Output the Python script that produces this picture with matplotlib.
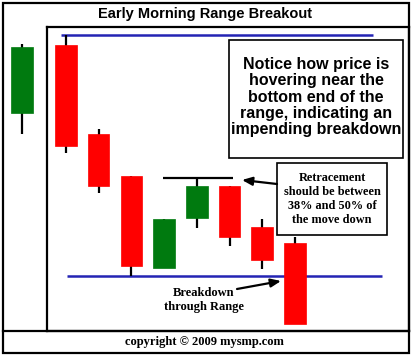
import matplotlib
matplotlib.use("Agg")
import matplotlib.pyplot as plt
from matplotlib.patches import Rectangle

# ---- data (price units, arbitrary scale) ----
first_candle = {"open": 218, "high": 287, "low": 197, "close": 284}
main_index = [1, 2, 3, 4, 5, 6, 7, 8]
opens  = [286, 197, 155, 63, 113, 145, 104, 88]
highs  = [296, 202, 155, 112, 153, 145, 112, 94]
lows   = [178, 138, 55, 63, 103, 85, 62, 7]
closes = [185, 145, 65, 112, 145, 94, 71, 7]
range_high = 296
range_low = 55
retrace_level = 153

title = "Early Morning Range Breakout"
note1 = "Notice how price is\nhovering near the\nbottom end of the\nrange, indicating an\nimpending breakdown"
note2 = "Retracement\nshould be between\n38% and 50% of\nthe move down"
note3 = "Breakdown\nthrough Range"
footer = "copyright \u00a9 2009 mysmp.com"

RED = "#FF0000"
GREEN = "#007A0F"
BLUE = "#2424B4"
W, H = 412, 356

fig = plt.figure(figsize=(W / 100, H / 100), dpi=100)
fig.patch.set_facecolor("white")

def px_rect(x0, y0, x1, y1):
    return [x0 / W, (H - y1) / H, (x1 - x0) / W, (y1 - y0) / H]

# main panel
ax = fig.add_axes(px_rect(47, 27, 409, 331))
unit = 32.7
ax.set_xlim(1 + (47 - 66) / unit, 1 + (409 - 66) / unit)
ax.set_ylim(0, 304)
ax.set_xticks([]); ax.set_yticks([])
for s in ax.spines.values():
    s.set_linewidth(1.6)
    s.set_color("black")

bw = 0.66

def candle(a, x, o, h, l, c):
    col = GREEN if c >= o else RED
    a.plot([x, x], [l, h], color="black", lw=1.6, zorder=2, solid_capstyle="butt")
    a.add_patch(Rectangle((x - bw / 2, min(o, c)), bw, abs(c - o),
                          facecolor=col, edgecolor=col, lw=0.5, zorder=3))

for x, o, h, l, c in zip(main_index, opens, highs, lows, closes):
    candle(ax, x, o, h, l, c)

ax.hlines(range_high, 0.847, 10.39, color=BLUE, lw=1.8, zorder=1)
ax.hlines(range_low, 1.03, 10.66, color=BLUE, lw=1.8, zorder=1)
ax.hlines(retrace_level, 3.97, 6.11, color="black", lw=1.6, zorder=1)

# left panel with the first candle
axl = fig.add_axes(px_rect(3, 27, 47, 331))
axl.set_xlim((3 - 22) / unit, (47 - 22) / unit)
axl.set_ylim(0, 304)
axl.axis("off")
candle(axl, 0, first_candle["open"], first_candle["high"],
       first_candle["low"], first_candle["close"])

# overlay in pixel coordinates for frames and notes
ov = fig.add_axes([0, 0, 1, 1])
ov.set_xlim(0, W); ov.set_ylim(H, 0)
ov.axis("off")
ov.patch.set_alpha(0)

ov.add_patch(Rectangle((3, 3), 406, 350, fill=False, ec="black", lw=1.6))
ov.plot([3, 409], [331, 331], color="black", lw=1.6)

ov.text(205, 14, title, ha="center", va="center", fontsize=10.5,
        fontweight="bold", family="Liberation Sans")
ov.text(204, 342, footer, ha="center", va="center", fontsize=9,
        fontweight="bold", family="Liberation Serif")

ov.add_patch(Rectangle((229, 40), 174, 118, fc="white", ec="black", lw=1.2, zorder=4))
ov.text(316, 97, note1, ha="center", va="center", fontsize=11.5, fontweight="bold",
        family="Liberation Sans", linespacing=1.12, zorder=5)

ov.add_patch(Rectangle((277, 163), 110, 72, fc="white", ec="black", lw=1.2, zorder=4))
ov.text(332, 199, note2, ha="center", va="center", fontsize=8.8, fontweight="bold",
        family="Liberation Serif", linespacing=1.2, zorder=5)

ov.text(204, 300, note3, ha="center", va="center", fontsize=9, fontweight="bold",
        family="Liberation Serif", linespacing=1.2, zorder=5)

arrow = dict(arrowstyle="-|>,head_length=0.6,head_width=0.25", color="black", lw=1.6,
             shrinkA=0, shrinkB=0)
ov.annotate("", xy=(242, 180), xytext=(277, 184), arrowprops=arrow, zorder=5)
ov.annotate("", xy=(281, 281), xytext=(237, 289), arrowprops=arrow, zorder=5)

fig.savefig("out.png", dpi=100, facecolor="white")
